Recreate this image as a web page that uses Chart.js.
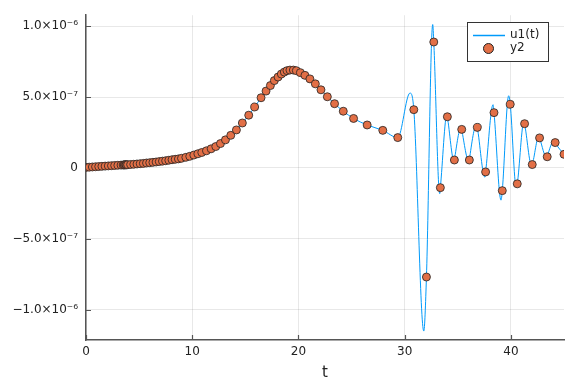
<!DOCTYPE html>
<html>
<head>
<meta charset="utf-8">
<script src="https://cdn.jsdelivr.net/npm/chart.js@4"></script>
<style>
  html, body { margin: 0; padding: 0; background: #fff; }
</style>
</head>
<body>
<canvas id="myChart" width="576" height="384"></canvas>
<script>
// saved solver points (y2)
const tPts = [0, 0.3, 0.6, 0.9, 1.2, 1.5, 1.8, 2.1, 2.4, 2.7, 3.0, 3.3, 3.5, 3.6, 3.68, 3.76, 3.84, 3.92,
  4.2, 4.5, 4.8, 5.1, 5.4, 5.7, 6.0, 6.3, 6.6, 6.9, 7.2, 7.5, 7.8, 8.1, 8.4, 8.7,
  8.99, 9.40, 9.77, 10.15, 10.53, 10.90, 11.34, 11.78, 12.22, 12.66, 13.13, 13.63, 14.16, 14.72,
  15.32, 15.88, 16.48, 16.95, 17.36, 17.73, 18.08, 18.39, 18.67, 18.92, 19.20, 19.52, 19.80,
  20.18, 20.61, 21.08, 21.59, 22.12, 22.72, 23.40, 24.22, 25.19, 26.47, 27.94, 29.35,
  30.86, 32.05, 32.74, 33.36, 34.02, 34.68, 35.37, 36.09, 36.84, 37.62, 38.41, 39.19,
  39.94, 40.60, 41.29, 42.01, 42.70, 43.42, 44.17, 45.0];
const y2 = [0.4e-8, 0.55e-8, 0.7e-8, 0.85e-8, 1.0e-8, 1.15e-8, 1.3e-8, 1.45e-8, 1.6e-8, 1.75e-8, 1.9e-8, 2.0e-8, 2.1e-8, 2.15e-8, 2.2e-8, 2.2e-8, 2.25e-8, 2.3e-8,
  2.45e-8, 2.6e-8, 2.8e-8, 3.0e-8, 3.2e-8, 3.5e-8, 3.7e-8, 3.95e-8, 4.2e-8, 4.5e-8, 4.8e-8, 5.1e-8, 5.45e-8, 5.8e-8, 6.1e-8, 6.4e-8,
  6.8e-8, 7.5e-8, 8.2e-8, 9.1e-8, 10.0e-8, 10.9e-8, 12.1e-8, 13.5e-8, 15.1e-8, 17.2e-8, 19.8e-8, 23.0e-8, 26.8e-8, 31.7e-8,
  37.2e-8, 43.0e-8, 49.5e-8, 54.2e-8, 58.1e-8, 61.6e-8, 64.1e-8, 66.2e-8, 67.6e-8, 68.6e-8, 69.0e-8, 69.0e-8, 68.6e-8,
  67.2e-8, 65.3e-8, 62.8e-8, 59.3e-8, 55.1e-8, 50.2e-8, 45.3e-8, 40.0e-8, 34.9e-8, 30.3e-8, 26.5e-8, 21.4e-8,
  41.1e-8, -76.9e-8, 88.8e-8, -13.9e-8, 36.1e-8, 5.6e-8, 27.2e-8, 5.6e-8, 28.6e-8, -2.8e-8, 39.0e-8, -16.0e-8,
  44.9e-8, -11.2e-8, 31.2e-8, 2.4e-8, 21.2e-8, 7.9e-8, 17.9e-8, 9.6e-8];

// extra peaks / troughs of the dense solution curve u1(t)
const tExt = [30.5, 31.8, 32.64, 33.3, 33.98, 34.66, 35.33, 36.07, 36.78, 37.55, 38.32, 39.07, 39.79, 40.5, 41.23, 41.95, 42.64, 43.39, 44.08];
const uExt = [52.8e-8, -115e-8, 101.1e-8, -18.1e-8, 37.7e-8, 4.5e-8, 29.1e-8, 4.2e-8, 30.7e-8, -6.5e-8, 44.6e-8, -22.7e-8, 50.9e-8, -13.5e-8, 33.0e-8, 1.7e-8, 22.6e-8, 7.0e-8, 19.5e-8];

const xTicks = [0, 10, 20, 30, 40];
const yTicks = [-1e-6, -5e-7, 0, 5e-7, 1e-6];
const yTickLabels = ['\u22121.0\u00d710\u207b\u2076', '\u22125.0\u00d710\u207b\u2077', '0', '5.0\u00d710\u207b\u2077', '1.0\u00d710\u207b\u2076'];

const blue = '#009AFA';
const orange = '#E26F46';
const axisCol = '#555555';
const font = 'DejaVu Sans';

const scatterData = tPts.map((t, i) => ({x: t, y: y2[i]}));
const lineData = scatterData.concat(tExt.map((t, i) => ({x: t, y: uExt[i]})))
  .sort((a, b) => a.x - b.x);

// ticks pointing into the plot + boxed legend
const extras = {
  id: 'extras',
  beforeDatasetsDraw(chart) {
    const {ctx, chartArea: a, scales: {x, y}} = chart;
    ctx.save();
    ctx.strokeStyle = axisCol;
    ctx.lineWidth = 1.2;
    ctx.beginPath();
    xTicks.forEach(v => {
      const px = Math.round(x.getPixelForValue(v)) + 0.5;
      ctx.moveTo(px, a.bottom); ctx.lineTo(px, a.bottom - 5);
    });
    yTicks.forEach(v => {
      const py = Math.round(y.getPixelForValue(v)) + 0.5;
      ctx.moveTo(a.left, py); ctx.lineTo(a.left + 5, py);
    });
    ctx.stroke();
    ctx.restore();
  },
  afterDraw(chart) {
    const ctx = chart.ctx;
    ctx.save();
    ctx.fillStyle = '#fff';
    ctx.fillRect(467.5, 22.5, 81, 39);
    ctx.strokeStyle = '#333';
    ctx.lineWidth = 1;
    ctx.strokeRect(467.5, 22.5, 81, 39);
    ctx.strokeStyle = blue;
    ctx.lineWidth = 1.5;
    ctx.beginPath();
    ctx.moveTo(473, 35.5); ctx.lineTo(505, 35.5);
    ctx.stroke();
    ctx.lineWidth = 1;
    ctx.beginPath();
    ctx.arc(488.5, 48.5, 5, 0, Math.PI * 2);
    ctx.fillStyle = orange;
    ctx.fill();
    ctx.strokeStyle = '#222';
    ctx.stroke();
    ctx.fillStyle = '#222';
    ctx.font = '12px "' + font + '"';
    ctx.textBaseline = 'middle';
    ctx.fillText('u1(t)', 510, 35);
    ctx.fillText('y2', 510, 48);
    ctx.restore();
  }
};

new Chart(document.getElementById('myChart'), {
  type: 'scatter',
  data: {
    datasets: [{
      label: 'u1(t)',
      data: lineData,
      showLine: true,
      borderColor: blue,
      borderWidth: 1,
      pointRadius: 0,
      cubicInterpolationMode: 'monotone',
      order: 2
    }, {
      label: 'y2',
      data: scatterData,
      showLine: false,
      backgroundColor: orange,
      borderColor: '#222',
      borderWidth: 0.8,
      pointRadius: 4,
      order: 1
    }]
  },
  options: {
    responsive: false,
    devicePixelRatio: 1,
    animation: false,
    layout: {padding: {top: 11, right: 12, left: 0, bottom: 0}},
    plugins: {legend: {display: false}, tooltip: {enabled: false}},
    scales: {
      x: {
        type: 'linear', min: 0, max: 45,
        afterBuildTicks: s => { s.ticks = xTicks.map(v => ({value: v})); },
        afterFit: s => { s.height = 44; },
        ticks: {color: '#222', font: {family: font, size: 12}, padding: 5, maxRotation: 0},
        grid: {color: 'rgba(0,0,0,0.09)', drawTicks: false},
        border: {display: true, color: axisCol, width: 1.5},
        title: {display: true, text: 't', color: '#222', font: {family: font, size: 15}, padding: {top: 0, bottom: 2}}
      },
      y: {
        type: 'linear', min: -1.213e-6, max: 1.077e-6,
        afterBuildTicks: s => { s.ticks = yTicks.map(v => ({value: v})); },
        afterFit: s => { s.width = 86; },
        ticks: {
          color: '#222', font: {family: font, size: 12}, padding: 8,
          callback: (v) => yTickLabels[yTicks.indexOf(v)]
        },
        grid: {color: 'rgba(0,0,0,0.09)', drawTicks: false},
        border: {display: true, color: axisCol, width: 1.5}
      }
    }
  },
  plugins: [extras]
});
</script>
</body>
</html>
